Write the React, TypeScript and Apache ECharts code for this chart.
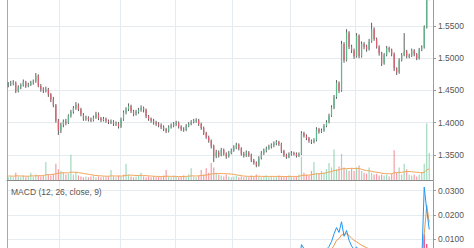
import React, { useEffect, useRef } from 'react';
import * as echarts from 'echarts';

// [open, close, low, high]
const candles: number[][] = [
  [1.458,1.460,1.455,1.463],[1.460,1.461,1.457,1.465],[1.461,1.462,1.458,1.466],[1.462,1.449,1.446,1.464],[1.449,1.455,1.447,1.458],
  [1.455,1.458,1.452,1.461],[1.458,1.463,1.456,1.467],[1.463,1.457,1.454,1.465],[1.457,1.459,1.455,1.462],[1.459,1.462,1.457,1.465],
  [1.462,1.464,1.459,1.467],[1.464,1.473,1.462,1.477],[1.473,1.457,1.455,1.475],[1.457,1.452,1.448,1.460],[1.452,1.450,1.446,1.455],
  [1.450,1.452,1.447,1.456],[1.452,1.444,1.440,1.454],[1.444,1.436,1.432,1.446],[1.436,1.427,1.424,1.440],[1.427,1.403,1.400,1.429],
  [1.403,1.388,1.381,1.406],[1.388,1.397,1.384,1.400],[1.397,1.402,1.393,1.405],[1.402,1.400,1.396,1.406],[1.400,1.411,1.398,1.413],
  [1.411,1.417,1.408,1.420],[1.417,1.423,1.414,1.426],[1.423,1.428,1.420,1.432],[1.428,1.421,1.418,1.430],[1.421,1.413,1.410,1.423],
  [1.413,1.406,1.403,1.415],[1.406,1.408,1.403,1.411],[1.408,1.405,1.402,1.410],[1.405,1.404,1.401,1.408],[1.404,1.408,1.402,1.411],
  [1.408,1.414,1.406,1.417],[1.414,1.407,1.404,1.416],[1.407,1.404,1.401,1.409],[1.404,1.406,1.402,1.409],[1.406,1.403,1.400,1.408],
  [1.403,1.401,1.398,1.405],[1.401,1.402,1.398,1.405],[1.402,1.398,1.395,1.404],[1.398,1.399,1.395,1.402],[1.399,1.394,1.391,1.401],
  [1.394,1.405,1.392,1.408],[1.405,1.416,1.403,1.419],[1.416,1.421,1.413,1.424],[1.421,1.426,1.418,1.430],[1.426,1.418,1.415,1.428],
  [1.418,1.413,1.410,1.420],[1.413,1.417,1.411,1.420],[1.417,1.420,1.414,1.423],[1.420,1.423,1.417,1.427],[1.423,1.420,1.416,1.425],
  [1.420,1.410,1.407,1.422],[1.410,1.406,1.403,1.412],[1.406,1.403,1.400,1.408],[1.403,1.400,1.397,1.406],[1.400,1.398,1.395,1.403],
  [1.398,1.396,1.393,1.401],[1.396,1.393,1.390,1.399],[1.393,1.390,1.387,1.396],[1.390,1.387,1.384,1.392],[1.387,1.393,1.385,1.396],
  [1.393,1.396,1.391,1.399],[1.396,1.398,1.393,1.401],[1.398,1.400,1.395,1.403],[1.400,1.394,1.391,1.402],[1.394,1.390,1.387,1.396],
  [1.390,1.389,1.386,1.393],[1.389,1.395,1.387,1.398],[1.395,1.398,1.393,1.401],[1.398,1.401,1.396,1.404],[1.401,1.403,1.399,1.406],
  [1.403,1.404,1.400,1.407],[1.404,1.398,1.395,1.406],[1.398,1.392,1.389,1.400],[1.392,1.384,1.381,1.394],[1.384,1.378,1.375,1.386],
  [1.378,1.372,1.369,1.380],[1.372,1.364,1.360,1.374],[1.364,1.348,1.339,1.366],[1.348,1.354,1.345,1.358],[1.354,1.350,1.346,1.357],
  [1.350,1.358,1.348,1.361],[1.358,1.352,1.349,1.360],[1.352,1.348,1.344,1.354],[1.348,1.353,1.346,1.356],[1.353,1.357,1.351,1.360],
  [1.357,1.362,1.355,1.365],[1.362,1.366,1.359,1.369],[1.366,1.360,1.357,1.368],[1.360,1.352,1.349,1.362],[1.352,1.349,1.346,1.355],
  [1.349,1.354,1.347,1.357],[1.354,1.350,1.347,1.356],[1.350,1.342,1.339,1.352],[1.342,1.338,1.335,1.344],[1.338,1.334,1.331,1.340],
  [1.334,1.345,1.332,1.348],[1.345,1.353,1.343,1.356],[1.353,1.357,1.350,1.360],[1.357,1.360,1.354,1.363],[1.360,1.363,1.358,1.366],
  [1.363,1.365,1.360,1.368],[1.365,1.368,1.362,1.371],[1.368,1.370,1.365,1.373],[1.370,1.367,1.364,1.372],[1.367,1.356,1.353,1.369],
  [1.356,1.350,1.347,1.358],[1.350,1.347,1.344,1.352],[1.347,1.351,1.345,1.354],[1.351,1.353,1.349,1.356],[1.353,1.352,1.349,1.355],
  [1.352,1.349,1.346,1.354],[1.349,1.351,1.347,1.354],[1.351,1.384,1.350,1.387],[1.384,1.380,1.377,1.386],[1.380,1.376,1.373,1.382],
  [1.376,1.372,1.369,1.378],[1.372,1.370,1.367,1.374],[1.370,1.373,1.368,1.376],[1.373,1.390,1.371,1.393],[1.390,1.386,1.383,1.392],
  [1.386,1.388,1.384,1.391],[1.388,1.395,1.386,1.398],[1.395,1.401,1.393,1.404],[1.401,1.411,1.399,1.414],[1.411,1.424,1.409,1.427],
  [1.424,1.440,1.421,1.443],[1.440,1.462,1.437,1.466],[1.462,1.450,1.446,1.464],[1.450,1.522,1.448,1.527],[1.522,1.497,1.493,1.525],
  [1.497,1.540,1.495,1.545],[1.540,1.518,1.514,1.542],[1.518,1.512,1.508,1.521],[1.512,1.503,1.499,1.515],[1.503,1.535,1.501,1.539],
  [1.535,1.503,1.500,1.537],[1.503,1.522,1.501,1.526],[1.522,1.518,1.514,1.525],[1.518,1.514,1.510,1.521],[1.514,1.526,1.512,1.530],
  [1.526,1.545,1.524,1.555],[1.545,1.530,1.527,1.548],[1.530,1.518,1.515,1.532],[1.518,1.508,1.504,1.520],[1.508,1.492,1.488,1.510],
  [1.492,1.505,1.490,1.508],[1.505,1.516,1.503,1.519],[1.516,1.513,1.509,1.518],[1.513,1.507,1.503,1.515],[1.507,1.484,1.480,1.509],
  [1.484,1.478,1.474,1.486],[1.478,1.497,1.476,1.500],[1.497,1.505,1.495,1.508],[1.505,1.511,1.503,1.539],[1.511,1.503,1.500,1.513],
  [1.503,1.504,1.500,1.507],[1.504,1.512,1.502,1.515],[1.512,1.506,1.503,1.514],[1.506,1.500,1.497,1.508],[1.500,1.513,1.498,1.516],
  [1.513,1.517,1.511,1.520],[1.517,1.548,1.515,1.551],[1.548,1.605,1.546,1.612],[1.605,1.612,1.590,1.620],
];

const volumes = [
  1.5,2,1.5,4,2,1.5,2.5,1.5,2,4,
  2,3,2.5,2,2.5,10,3,2.5,3.5,9,
  6,5,4.5,3,3.5,14,3,4.5,2.5,2,
  1.5,2,1.5,2,2.5,1.5,2,1.5,2,1.5,
  2,5.5,2,1.5,2.5,2,3,9,3,2,
  1.5,2,2.5,4,2,1.5,2,1.5,2,1.5,
  2,1.5,2.5,5.5,2,1.5,2.5,2,1.5,2,
  2.5,2,3,6.5,2,1.5,2.5,5.5,3,6.5,
  4,9.5,7,4,3,2.5,2,3,2,1.5,
  2,2.5,1.5,2,1.5,2,1.5,2.5,2,3,
  2,1.5,2,2.5,1.5,2,1.5,2,2.5,2,
  1.5,2,2.5,2,1.5,2,3,13,4,3,
  2.5,5,10,4,3.5,5,4,6,9.5,7,
  17,6,7.5,14.5,7,6,5,6.5,5,7,
  8,5,4,3.5,7,4,3,3.5,2.5,3,
  2.5,3,2,3.5,16.5,4,7,3,9,6,
  3,2.5,3,2,3,4.5,9,31.5,15,
];

const volumeMA = [
  2.2,2.2,2.1,2.3,2.3,2.2,2.2,2.1,2.1,2.3,
  2.3,2.3,2.4,2.4,2.4,2.9,3.0,3.0,3.1,3.5,
  3.7,3.9,4.0,4.0,3.9,4.4,4.3,4.3,4.1,3.9,
  3.6,3.4,3.2,2.9,2.7,2.5,2.4,2.3,2.2,2.1,
  2.1,2.3,2.3,2.2,2.2,2.2,2.3,2.6,2.7,2.7,
  2.6,2.5,2.5,2.6,2.5,2.4,2.3,2.2,2.1,2.0,
  2.0,1.9,1.9,2.1,2.1,2.0,2.0,2.0,1.9,1.9,
  2.0,2.0,2.1,2.3,2.3,2.2,2.3,2.5,2.6,2.8,
  3.0,3.3,3.5,3.6,3.6,3.6,3.5,3.5,3.4,3.3,
  3.1,2.9,2.6,2.4,2.2,2.1,2.0,2.0,2.0,2.1,
  2.1,2.0,2.0,2.0,2.0,2.0,2.0,2.0,2.0,2.0,
  1.9,1.9,2.0,2.0,2.0,2.0,2.0,2.5,2.6,2.7,
  2.7,2.9,3.3,3.4,3.5,3.6,3.8,4.0,4.4,4.6,
  5.3,5.4,5.6,6.2,6.3,6.3,6.4,6.5,6.4,6.4,
  6.4,6.0,5.5,5.2,5.1,4.8,4.5,4.3,4.1,3.8,
  3.6,3.5,3.5,3.4,4.1,4.1,4.3,4.2,4.6,4.7,
  4.7,4.6,4.4,4.3,4.2,4.0,4.2,5.6,6.2,
];

const macdLine = [
  -0.001,-0.001,-0.001,-0.002,-0.002,-0.002,-0.001,-0.001,-0.001,-0.001,
  0.000,0.001,0.000,-0.001,-0.002,-0.002,-0.003,-0.004,-0.005,-0.008,
  -0.011,-0.012,-0.012,-0.012,-0.011,-0.010,-0.008,-0.006,-0.005,-0.005,
  -0.005,-0.005,-0.005,-0.005,-0.004,-0.004,-0.004,-0.004,-0.004,-0.004,
  -0.004,-0.004,-0.004,-0.004,-0.004,-0.003,-0.002,-0.001,0.001,0.001,
  0.001,0.001,0.002,0.002,0.002,0.001,0.000,-0.001,-0.002,-0.002,
  -0.003,-0.003,-0.004,-0.004,-0.004,-0.004,-0.003,-0.003,-0.003,-0.003,
  -0.003,-0.003,-0.002,-0.002,-0.001,-0.001,-0.001,-0.002,-0.003,-0.004,
  -0.006,-0.007,-0.010,-0.011,-0.011,-0.011,-0.011,-0.011,-0.010,-0.009,
  -0.008,-0.006,-0.006,-0.006,-0.006,-0.006,-0.006,-0.007,-0.007,-0.008,
  -0.007,-0.006,-0.005,-0.004,-0.003,-0.002,-0.001,0.000,0.000,-0.001,
  -0.002,-0.002,-0.002,-0.002,-0.002,-0.002,-0.002,0.0078,0.0062,0.0048,
  0.0035,0.0025,0.0022,0.0040,0.0042,0.0045,0.0050,0.0058,0.0070,0.0090,
  0.0122,0.0148,0.0128,0.0172,0.0112,0.0136,0.0096,0.0072,0.0058,0.0068,
  0.0050,0.0052,0.0048,0.0044,0.0046,0.0055,0.0050,0.0042,0.0032,0.0018,
  0.0016,0.0020,0.0018,0.0014,-0.0005,-0.0018,-0.0012,-0.0006,0.0000,-0.0002,
  -0.0003,0.0000,-0.0001,-0.0003,0.0000,0.0004,0.0315,0.0220,0.0140,
];

const signalLine = [
  -0.001,-0.001,-0.001,-0.001,-0.001,-0.001,-0.001,-0.001,-0.001,-0.001,
  -0.001,-0.001,-0.001,-0.001,-0.001,-0.001,-0.001,-0.002,-0.002,-0.003,
  -0.004,-0.006,-0.007,-0.008,-0.009,-0.009,-0.009,-0.009,-0.008,-0.008,
  -0.007,-0.007,-0.006,-0.006,-0.006,-0.005,-0.005,-0.005,-0.005,-0.005,
  -0.005,-0.004,-0.004,-0.004,-0.004,-0.004,-0.004,-0.003,-0.003,-0.002,
  -0.001,-0.001,0.000,0.000,0.001,0.001,0.001,0.000,0.000,0.000,
  -0.001,-0.001,-0.002,-0.002,-0.002,-0.003,-0.003,-0.003,-0.003,-0.003,
  -0.003,-0.003,-0.003,-0.003,-0.002,-0.002,-0.002,-0.002,-0.002,-0.002,
  -0.003,-0.004,-0.005,-0.006,-0.007,-0.008,-0.008,-0.009,-0.009,-0.009,
  -0.009,-0.008,-0.008,-0.008,-0.007,-0.007,-0.007,-0.007,-0.007,-0.007,
  -0.007,-0.007,-0.007,-0.006,-0.005,-0.005,-0.004,-0.003,-0.002,-0.002,
  -0.002,-0.002,-0.002,-0.002,-0.002,-0.002,-0.002,0.0000,0.0020,0.0025,
  0.0028,0.0028,0.0028,0.0030,0.0032,0.0035,0.0038,0.0042,0.0048,0.0058,
  0.0075,0.0095,0.0102,0.0118,0.0120,0.0122,0.0115,0.0105,0.0095,0.0090,
  0.0082,0.0075,0.0070,0.0065,0.0061,0.0060,0.0058,0.0055,0.0050,0.0044,
  0.0038,0.0034,0.0031,0.0028,0.0022,0.0014,0.0009,0.0006,0.0005,0.0003,
  0.0002,0.0002,0.0001,0.0000,0.0000,0.0001,0.0120,0.0240,0.0170,
];

const macdHist = [
  0,0,0,-0.001,-0.001,-0.001,0,0,0,0,
  0.001,0.002,0.001,0,-0.001,-0.001,-0.002,-0.002,-0.003,-0.005,
  -0.007,-0.006,-0.005,-0.004,-0.002,-0.001,0.001,0.003,0.003,0.003,
  0.002,0.002,0.001,0.001,0.002,0.001,0.001,0.001,0.001,0.001,
  0.001,0,0,0,0,0.001,0.002,0.002,0.004,0.003,
  0.002,0.002,0.002,0.002,0.001,0,-0.001,-0.001,-0.002,-0.002,
  -0.002,-0.002,-0.002,-0.002,-0.002,-0.001,0,0,0,0,
  0,0,0.001,0.001,0.001,0.001,0.001,0,-0.001,-0.002,
  -0.003,-0.003,-0.005,-0.005,-0.004,-0.003,-0.003,-0.002,-0.001,0,
  0.001,0.002,0.002,0.002,0.001,0.001,0.001,0,0,-0.001,
  0,0.001,0.002,0.002,0.002,0.003,0.003,0.003,0.002,0.001,
  0,0,0,0,0,0,-0.002,0.0058,0.0042,0.0023,
  0.0007,-0.0003,-0.0006,0.0010,0.0010,0.0010,0.0012,0.0016,0.0022,0.0032,
  0.0047,0.0053,0.0026,0.0054,-0.0008,0.0014,-0.0019,-0.0033,-0.0037,-0.0022,
  -0.0032,-0.0023,-0.0022,-0.0021,-0.0015,-0.0005,-0.0008,-0.0013,-0.0018,-0.0026,
  -0.0022,-0.0014,-0.0013,-0.0014,-0.0027,-0.0032,-0.0021,-0.0012,-0.0005,-0.0005,
  -0.0005,-0.0002,-0.0002,-0.0003,0.0000,0.0003,0.0120,0.0080,0.0020,
];

// indices of categories where a new period (month) starts -> vertical grid lines
const periodStarts = [21, 45, 67, 90, 113, 139];

const categories = [...candles.map((_, i) => `D${i + 1}`), ''];

const priceMin = 1.3112;
const priceMax = 1.5903;
// MACD tick labels that fall inside the visible part of the lower pane
const macdLabelFloor = 0.01;

const UP = '#5cb98c';
const DOWN = '#e35c6c';
const WICK = '#5e5e5e';
const GRID = '#e6ebf0';
const AXIS = '#9a9a9a';
const LABEL = '#555555';
const FONT = 'Liberation Sans, Arial, sans-serif';

export default function App() {
  const ref = useRef<HTMLDivElement>(null);

  useEffect(() => {
    if (!ref.current) return;
    const chart = echarts.init(ref.current, undefined, { renderer: 'svg' });

    const splitInterval = (i: number) => periodStarts.includes(i);
    const labelBase = {
      color: LABEL,
      fontSize: 8.5,
      fontFamily: FONT,
      margin: 5,
    };

    chart.setOption({
      animation: false,
      textStyle: { fontFamily: FONT },
      title: {
        text: 'MACD (12, 26, close, 9)',
        left: 11,
        top: 187,
        padding: 0,
        textStyle: { color: LABEL, fontSize: 8.5, fontWeight: 'normal', fontFamily: FONT },
      },
      grid: [
        { left: 7, right: 41, top: 0, height: 180, outerBoundsMode: 'none', containLabel: false },
        { left: 7, right: 41, top: 181, height: 131, outerBoundsMode: 'none', containLabel: false },
      ],
      xAxis: [
        {
          type: 'category', gridIndex: 0, data: categories, boundaryGap: true,
          axisLine: { show: true, lineStyle: { color: '#8a8a8a', width: 1 } },
          axisTick: { show: false }, axisLabel: { show: false },
          splitLine: { show: true, interval: splitInterval, lineStyle: { color: GRID, width: 1 } },
        },
        {
          type: 'category', gridIndex: 1, data: categories, boundaryGap: true,
          axisLine: { show: false }, axisTick: { show: false }, axisLabel: { show: false },
          splitLine: { show: true, interval: splitInterval, lineStyle: { color: GRID, width: 1 } },
        },
      ],
      yAxis: [
        {
          type: 'value', gridIndex: 0, position: 'right', min: priceMin, max: priceMax, splitNumber: 5,
          axisLine: { show: true, lineStyle: { color: AXIS } },
          axisTick: { show: true, length: 3, lineStyle: { color: AXIS } },
          axisLabel: { ...labelBase, formatter: (v: number) => v.toFixed(4), showMinLabel: false, showMaxLabel: false },
          splitLine: { show: true, showMinLine: false, showMaxLine: false, lineStyle: { color: GRID } },
        },
        {
          type: 'value', gridIndex: 0, position: 'left', min: 0, max: 100,
          axisLine: { show: true, lineStyle: { color: '#a8a8a8' } },
          axisTick: { show: false }, axisLabel: { show: false }, splitLine: { show: false },
        },
        {
          type: 'value', gridIndex: 1, position: 'right', min: -0.02, max: 0.034, interval: 0.01,
          axisLine: { show: true, lineStyle: { color: AXIS } },
          axisTick: { show: true, length: 3, lineStyle: { color: AXIS } },
          axisLabel: {
            ...labelBase,
            showMaxLabel: false,
            formatter: (v: number) => (v >= macdLabelFloor - 1e-9 ? v.toFixed(4) : ''),
          },
          splitLine: { show: true, showMaxLine: false, lineStyle: { color: GRID } },
        },
        {
          type: 'value', gridIndex: 1, position: 'left', min: 0, max: 1,
          axisLine: { show: true, lineStyle: { color: '#a8a8a8' } },
          axisTick: { show: false }, axisLabel: { show: false }, splitLine: { show: false },
        },
      ],
      series: [
        {
          type: 'bar', name: 'Volume', xAxisIndex: 0, yAxisIndex: 1, barWidth: 1.2, z: 1,
          data: volumes.map((v, i) => ({
            value: v,
            itemStyle: {
              color: candles[i][1] >= candles[i][0] ? 'rgba(83,185,135,0.55)' : 'rgba(235,77,92,0.55)',
            },
          })),
        },
        {
          type: 'line', name: 'Volume MA', xAxisIndex: 0, yAxisIndex: 1, z: 2,
          data: volumeMA, symbol: 'none',
          lineStyle: { color: '#f2a65a', width: 1 },
        },
        {
          type: 'custom', name: 'Price', xAxisIndex: 0, yAxisIndex: 0, z: 3, clip: true,
          data: candles.map((c, i) => [i, c[0], c[1], c[2], c[3]]),
          encode: { x: 0, y: [1, 2, 3, 4] },
          renderItem: (params: any, api: any) => {
            const idx = api.value(0);
            const o = api.value(1);
            const c = api.value(2);
            const l = api.value(3);
            const h = api.value(4);
            const pO = api.coord([idx, o]);
            const pC = api.coord([idx, c]);
            const pL = api.coord([idx, l]);
            const pH = api.coord([idx, h]);
            const bw = api.size([1, 0])[0] * 0.48;
            const up = c >= o;
            const top = Math.min(pO[1], pC[1]);
            const hgt = Math.max(Math.abs(pO[1] - pC[1]), 1);
            return {
              type: 'group',
              children: [
                {
                  type: 'line',
                  shape: { x1: pO[0], y1: pH[1], x2: pO[0], y2: pL[1] },
                  style: { stroke: WICK, lineWidth: 1 },
                },
                {
                  type: 'rect',
                  shape: { x: pO[0] - bw / 2, y: top, width: bw, height: hgt },
                  style: { fill: up ? UP : DOWN },
                },
              ],
            };
          },
        },
        {
          type: 'bar', name: 'Histogram', xAxisIndex: 1, yAxisIndex: 2, barWidth: 1.2, z: 1,
          data: macdHist, itemStyle: { color: '#ec407a' },
        },
        {
          type: 'line', name: 'MACD', xAxisIndex: 1, yAxisIndex: 2, z: 3,
          data: macdLine, symbol: 'none', lineStyle: { color: '#2196f3', width: 1 },
        },
        {
          type: 'line', name: 'Signal', xAxisIndex: 1, yAxisIndex: 2, z: 2,
          data: signalLine, symbol: 'none', lineStyle: { color: '#e39a4f', width: 1 },
        },
      ],
    });

    return () => chart.dispose();
  }, []);

  return (
    <div
      ref={ref}
      style={{ position: 'fixed', left: 0, top: 0, width: 474, height: 330, background: '#ffffff' }}
    />
  );
}
